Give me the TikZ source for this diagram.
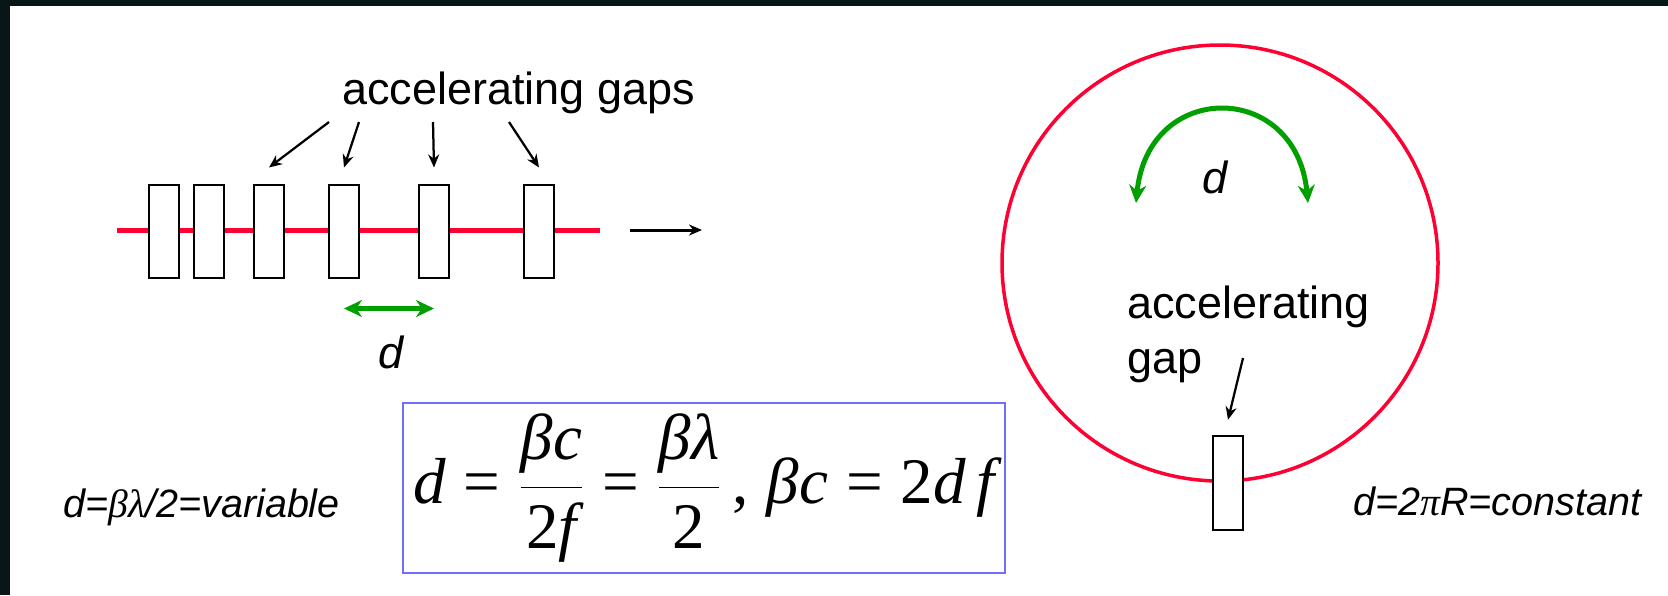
\RequirePackage{fix-cm}
\documentclass[tikz,border=0pt]{standalone}
\usepackage[no-math]{fontspec}
\setmainfont{Liberation Sans}
\newfontfamily\tnr{Liberation Serif}
\usetikzlibrary{arrows.meta,calc,positioning}

\definecolor{beamred}{RGB}{255,0,51}
\definecolor{dgreen}{RGB}{0,160,0}
\definecolor{fblue}{RGB}{110,110,255}
\definecolor{framedark}{RGB}{8,22,24}

\newcommand{\tnit}[1]{\mbox{\tnr\itshape #1}}
\newcommand{\tnup}[1]{\mbox{\tnr #1}}
\newcommand{\tneq}{\mathrel{\mbox{\tnr =}}}

\begin{document}
\begin{tikzpicture}[x=0.2mm, y=-0.2mm,
    gapbox/.style={rectangle, draw, fill=white, line width=0.4mm, minimum width=5.9mm, minimum height=18.6mm, inner sep=0},
    lbl/.style={font=\fontsize{25.6}{31.3}\selectfont, inner sep=0},
    dlbl/.style={font=\fontsize{25.6}{31.3}\selectfont\itshape, inner sep=0},
    note/.style={font=\fontsize{22.5}{27}\selectfont\itshape, inner sep=0},
    arrow/.style={-{Stealth[length=2.6mm, width=2.2mm]}, line width=0.45mm},
    darrow/.style={{Stealth[length=3.6mm, width=3.4mm]}-{Stealth[length=3.6mm, width=3.4mm]}, line width=1mm, draw=dgreen}
]
    % Frame
    \useasboundingbox (0,0) rectangle (1668,595);
    \fill[framedark] (0,0) rectangle (1668,6);
    \fill[framedark] (0,0) rectangle (10,595);

    % Linac
    \coordinate (beamL) at (117,230);
    \coordinate (beamR) at (600,230);
    \draw[beamred, line width=1mm] (beamL) -- (beamR);
    \node[gapbox] (b1) at (164,231) {};
    \node[gapbox] (b2) at (209,231) {};
    \node[gapbox] (b3) at (269,231) {};
    \node[gapbox] (b4) at (344,231) {};
    \node[gapbox] (b5) at (434,231) {};
    \node[gapbox] (b6) at (539,231) {};

    \node[lbl, anchor=base west] (gaps) at (342,104) {accelerating gaps};
    \coordinate (t1) at (329,122);
    \coordinate (t2) at (359,122);
    \coordinate (t3) at (433,122);
    \coordinate (t4) at (509,122);
    \draw[arrow] (t1) -- ($(b3.north)+(0,-16)$);
    \draw[arrow] (t2) -- ($(b4.north)+(0,-16)$);
    \draw[arrow] (t3) -- ($(b5.north)+(0,-16)$);
    \draw[arrow] (t4) -- ($(b6.north)+(0,-16)$);

    % Beam direction
    \coordinate (dir0) at ($(beamR)+(30,0)$);
    \coordinate (dir1) at ($(beamR)+(102,0)$);
    \draw[arrow, line width=0.6mm] (dir0) -- (dir1);

    % Cell length
    \draw[darrow] ($(b4.south)+(0,30)$) -- ($(b5.south)+(0,30)$);
    \node[dlbl] (dlin) at (391,352) {d};

    % Ring
    \node[circle, draw=beamred, line width=0.7mm, minimum size=87.2mm, inner sep=0] (ring) at (1220,263) {};
    \node[gapbox, minimum height=18.8mm] (rgap) at ($(ring.south)+(8,0)$) {};
    \node[lbl, anchor=north west, align=left] (rlbl) at (1127,286) {accelerating\\gap};
    \coordinate (ga) at (1243,358);
    \draw[arrow] (ga) -- ($(rgap.north)+(0,-15)$);

    \coordinate (al) at (1136,203);
    \coordinate (ar) at (1308,203);
    \draw[darrow] (al) .. controls (1148,80) and (1296,80) .. (ar);
    \node[dlbl] (dring) at (1215,177) {d};

    % Formula
    \node[draw=fblue, line width=0.4mm, minimum width=120.4mm, minimum height=34mm, inner sep=0, font=\fontsize{37}{44}\selectfont] (formula) at (704,488)
        {$\displaystyle \tnit{d} \tneq \frac{\tnit{βc}}{\tnup{2}\tnit{f}} \tneq \frac{\tnit{βλ}}{\tnup{2}}\,\tnup{,}\ \tnit{βc} \tneq \tnup{2}\tnit{d\,f}$};

    % Notes
    \node[note, anchor=base west] (var) at (63,517) {d={\tnr βλ}/2=variable};
    \node[note, anchor=base west] (const) at (1353,515) {d=2{\tnr π}R=constant};
\end{tikzpicture}
\end{document}
